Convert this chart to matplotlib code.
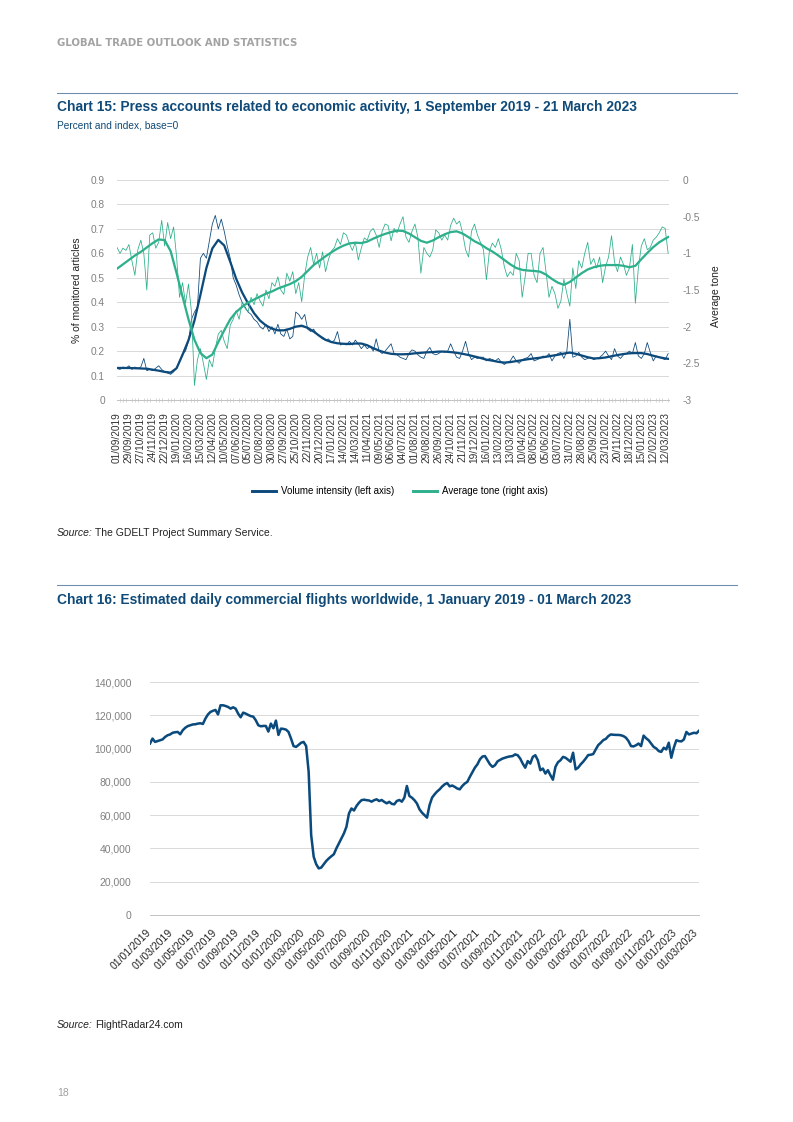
import matplotlib
matplotlib.use("Agg")
import matplotlib.pyplot as plt
import matplotlib.dates as mdates
from matplotlib.lines import Line2D
from matplotlib.ticker import FuncFormatter
import pandas as pd

W, H, DPI = 793, 1122, 96

NAVY = "#0d4a7c"
TEAL = "#2fb08c"
TITLE_BLUE = "#0f4a78"
RULE = "#6f8db0"
GRID = "#dadada"
TICK_GREY = "#808080"
NARROW = ["Liberation Sans Narrow", "Liberation Sans", "DejaVu Sans"]
SANS = ["Liberation Sans", "DejaVu Sans"]

plt.rcParams["font.family"] = SANS
plt.rcParams["axes.unicode_minus"] = False

# ---- Chart 15: press accounts (weekly readings from 01/09/2019) ----
press_start = "2019-09-01"
press_end = "2023-03-21"
vol_raw = [
    0.13, 0.125, 0.135, 0.13, 0.14, 0.125, 0.135, 0.13, 0.135, 0.17,
    0.12, 0.125, 0.12, 0.13, 0.14, 0.125, 0.115, 0.11, 0.105, 0.115,
    0.13, 0.16, 0.19, 0.2, 0.24, 0.33, 0.36, 0.38, 0.58, 0.60,
    0.58, 0.65, 0.72, 0.755, 0.70, 0.74, 0.69, 0.63, 0.58, 0.50,
    0.47, 0.43, 0.40, 0.38, 0.36, 0.35, 0.33, 0.32, 0.30, 0.29,
    0.31, 0.28, 0.30, 0.27, 0.31, 0.27, 0.26, 0.29, 0.25, 0.26,
    0.36, 0.35, 0.33, 0.35, 0.29, 0.28, 0.29, 0.27, 0.26, 0.25,
    0.245, 0.25, 0.235, 0.245, 0.28, 0.225, 0.23, 0.225, 0.24, 0.225,
    0.245, 0.23, 0.21, 0.225, 0.21, 0.22, 0.2, 0.25, 0.2, 0.19,
    0.2, 0.215, 0.23, 0.19, 0.185, 0.175, 0.17, 0.165, 0.19, 0.205,
    0.2, 0.185, 0.175, 0.17, 0.2, 0.215, 0.19, 0.185, 0.19, 0.2,
    0.195, 0.2, 0.23, 0.2, 0.175, 0.17, 0.2, 0.24, 0.19, 0.165,
    0.175, 0.17, 0.175, 0.175, 0.16, 0.17, 0.165, 0.16, 0.17, 0.155,
    0.145, 0.155, 0.16, 0.18, 0.16, 0.15, 0.165, 0.17, 0.175, 0.19,
    0.16, 0.165, 0.17, 0.18, 0.175, 0.19, 0.16, 0.18, 0.19, 0.195,
    0.17, 0.2, 0.33, 0.175, 0.18, 0.195, 0.175, 0.165, 0.17, 0.175,
    0.165, 0.17, 0.175, 0.185, 0.2, 0.18, 0.165, 0.21, 0.18, 0.17,
    0.185, 0.19, 0.2, 0.19, 0.235, 0.18, 0.17, 0.19, 0.235, 0.195,
    0.16, 0.18, 0.175, 0.17, 0.165, 0.19,
]
tone_raw = [
    -0.92, -1.0, -0.93, -0.96, -0.88, -1.1, -1.3, -0.95, -0.82, -1.0,
    -1.5, -0.75, -0.72, -0.93, -0.85, -0.55, -0.9, -0.58, -0.8, -0.64,
    -1.05, -1.6, -1.4, -1.68, -1.42, -1.8, -2.8, -2.45, -2.3, -2.5,
    -2.72, -2.45, -2.55, -2.3, -2.1, -2.05, -2.2, -2.3, -1.98, -1.9,
    -1.78, -1.9, -1.67, -1.75, -1.8, -1.6, -1.7, -1.55, -1.65, -1.72,
    -1.5, -1.62, -1.4, -1.45, -1.32, -1.5, -1.56, -1.27, -1.38, -1.25,
    -1.55, -1.4, -1.66, -1.3, -1.05, -0.92, -1.15, -1.0, -1.2, -0.98,
    -1.25, -1.08, -0.97, -0.92, -0.8, -0.88, -0.72, -0.75, -0.87, -0.96,
    -0.85, -1.09, -0.93, -0.79, -0.82, -0.7, -0.66, -0.75, -0.92, -0.7,
    -0.6, -0.62, -0.83, -0.66, -0.72, -0.6, -0.5, -0.78, -0.85, -0.7,
    -0.6, -0.78, -1.27, -0.92, -1.0, -1.05, -0.95, -0.68, -0.72, -0.82,
    -0.75, -0.82, -0.62, -0.52, -0.6, -0.56, -0.72, -0.95, -1.05, -0.7,
    -0.6, -0.75, -0.85, -0.95, -1.36, -0.97, -0.86, -0.92, -0.8, -0.95,
    -1.18, -1.32, -1.25, -1.3, -1.0, -1.1, -1.6, -1.32, -1.0, -1.0,
    -1.3, -1.4, -1.0, -0.92, -1.25, -1.6, -1.45, -1.55, -1.75, -1.65,
    -1.35, -1.55, -1.72, -1.2, -1.48, -1.1, -1.2, -1.0, -0.85, -1.15,
    -1.07, -1.2, -1.05, -1.4, -1.18, -1.05, -0.76, -1.12, -1.25, -1.05,
    -1.15, -1.3, -1.2, -0.88, -1.68, -1.2, -0.9, -0.8, -0.95, -0.92,
    -0.82, -0.78, -0.72, -0.64, -0.66, -1.0,
]
# smoothed trends, read every 14 days plus the last day
vol_smooth = [
    0.131, 0.131, 0.131, 0.130, 0.129, 0.128, 0.124, 0.120, 0.115, 0.112,
    0.130, 0.185, 0.245, 0.325, 0.430, 0.540, 0.620, 0.655, 0.632, 0.566,
    0.496, 0.440, 0.395, 0.355, 0.325, 0.305, 0.292, 0.285, 0.285, 0.291,
    0.300, 0.304, 0.295, 0.280, 0.262, 0.246, 0.237, 0.232, 0.230, 0.229,
    0.231, 0.231, 0.224, 0.212, 0.202, 0.194, 0.189, 0.187, 0.187, 0.188,
    0.191, 0.193, 0.195, 0.196, 0.198, 0.198, 0.196, 0.193, 0.189, 0.184,
    0.178, 0.172, 0.165, 0.161, 0.156, 0.153, 0.155, 0.159, 0.163, 0.167,
    0.170, 0.173, 0.177, 0.181, 0.185, 0.190, 0.194, 0.189, 0.182, 0.175,
    0.170, 0.171, 0.174, 0.179, 0.184, 0.188, 0.191, 0.192, 0.192, 0.188,
    0.181, 0.175, 0.170, 0.168,
]
tone_smooth = [
    -1.21, -1.15, -1.09, -1.03, -0.98, -0.92, -0.86, -0.81, -0.82, -0.97,
    -1.27, -1.59, -1.90, -2.18, -2.36, -2.43, -2.38, -2.21, -2.05, -1.90,
    -1.80, -1.73, -1.67, -1.63, -1.59, -1.55, -1.52, -1.48, -1.45, -1.42,
    -1.38, -1.32, -1.24, -1.16, -1.10, -1.04, -0.985, -0.935, -0.895, -0.865,
    -0.855, -0.86, -0.84, -0.80, -0.765, -0.735, -0.71, -0.69, -0.695, -0.73,
    -0.78, -0.83, -0.855, -0.825, -0.78, -0.74, -0.71, -0.70, -0.73, -0.78,
    -0.835, -0.875, -0.93, -0.975, -1.03, -1.09, -1.15, -1.20, -1.225, -1.235,
    -1.24, -1.25, -1.29, -1.35, -1.40, -1.43, -1.39, -1.33, -1.27, -1.22,
    -1.19, -1.17, -1.16, -1.16, -1.16, -1.17, -1.19, -1.17, -1.08, -0.995,
    -0.915, -0.85, -0.80, -0.773,
]
vol_ticks = [i / 10 for i in range(10)]
tone_ticks = [-3, -2.5, -2, -1.5, -1, -0.5, 0]

# ---- Chart 16: daily commercial flights (weekly readings, thousands) ----
flights_start = "2019-01-01"
flights_k = [
    103, 106, 104, 104.5, 105, 105.5, 107, 108, 108.5, 109.5,
    109.8, 110, 108.6, 111, 112.5, 113.5, 114, 114.5, 114.6, 115,
    115.2, 114.8, 118, 120.5, 122, 122.7, 123.2, 120.5, 126, 126,
    125.6, 125, 124, 124.8, 124, 121, 118.8, 121.6, 121, 120.2,
    119.5, 119.2, 117, 114, 113.4, 113.6, 113.6, 110.2, 115, 112.2,
    116.8, 108.2, 112, 111.8, 111.4, 110, 106, 101.5, 101, 102.2,
    103.5, 104, 101.5, 86, 48, 35, 30.5, 28, 28.5, 30.5,
    32.5, 34, 35.3, 36.5, 40, 43, 46, 49, 53, 61,
    64, 62.8, 65.5, 67.5, 69, 69.3, 69, 68.8, 68.1, 69,
    69.5, 68.5, 69.1, 68, 67.1, 68, 66.8, 66.5, 68.5, 69.1,
    68.1, 70.5, 77.5, 71.5, 70.5, 69, 67, 63.5, 61.5, 60,
    58.5, 66, 70.5, 72.5, 74.2, 75.5, 77.2, 78.5, 79.3, 77.3,
    77.8, 77, 76, 75.5, 77.5, 79, 80, 83, 85.7, 88.5,
    90.5, 93.5, 95.2, 95.5, 93, 90.5, 89, 90, 92.3, 93.2,
    94, 94.5, 95, 95.3, 95.5, 96.5, 96, 94, 91, 88.5,
    92.5, 91, 95, 96, 93, 87, 88, 85, 87, 84,
    81.3, 89, 91.8, 93, 95, 94.5, 93.3, 92.1, 97.5, 87.5,
    88.5, 90.5, 92.1, 94, 96.1, 96.3, 96.7, 99.5, 102.1, 103.5,
    105.1, 105.8, 107.5, 108.5, 108.3, 108.2, 108.2, 108, 107.5, 106.5,
    104.5, 101.5, 101.3, 102, 103, 101.5, 107.8, 106.2, 105, 103,
    101, 100.1, 98.5, 98, 100.5, 99.5, 103.5, 94.5, 100.5, 105,
    104.5, 104.3, 105.5, 110, 108.5, 109, 109.5, 109.2, 110.7,
]
flight_ticks = pd.date_range("2019-01-01", "2023-03-01", freq="2MS")
flight_yticks = list(range(0, 140001, 20000))


def fx(x):
    return x / W


def fy(y):
    return 1 - y / H


def source_line(fig, y, rest):
    t = fig.text(fx(57), fy(y), "Source:", fontsize=7.8, style="italic",
                 va="center", color="#222222")
    fig.canvas.draw()
    x1 = t.get_window_extent().x1
    fig.text(x1 / W + 2 / W, fy(y), rest, fontsize=7.8, va="center",
             color="#222222")


fig = plt.figure(figsize=(W / DPI, H / DPI), dpi=DPI)

# page furniture
fig.text(fx(57), fy(43), "GLOBAL TRADE OUTLOOK AND STATISTICS", fontsize=7.6,
         family=["DejaVu Sans"], fontweight="bold", color="#a3a3a3", va="center")
for yy in (92.5, 585):
    fig.add_artist(Line2D([fx(57), fx(737)], [fy(yy), fy(yy)], color=RULE, lw=0.8))
fig.text(fx(57), fy(107), "Chart 15: Press accounts related to economic activity, "
         "1 September 2019 - 21 March 2023", family=NARROW, fontweight="bold",
         fontsize=10.3, color=TITLE_BLUE, va="center")
fig.text(fx(57), fy(126), "Percent and index, base=0", family=NARROW,
         fontsize=7.6, color=TITLE_BLUE, va="center")
fig.text(fx(57), fy(600), "Chart 16: Estimated daily commercial flights worldwide, "
         "1 January 2019 - 01 March 2023", family=NARROW, fontweight="bold",
         fontsize=10.3, color=TITLE_BLUE, va="center")
fig.text(fx(57), fy(1093), "18", fontsize=7.8, color="#a0a0a0", va="center")

# ---- chart 15 ----
raw_dates = pd.date_range(press_start, periods=len(vol_raw), freq="7D")
smooth_dates = pd.date_range(press_start, periods=len(vol_smooth) - 1, freq="14D")
smooth_dates = smooth_dates.append(pd.DatetimeIndex([press_end]))

ax1 = fig.add_axes([fx(117), fy(400), (669 - 117) / W, 220 / H])
ax2 = ax1.twinx()

ax1.plot(raw_dates, vol_raw, color=NAVY, lw=0.6)
ax1.plot(smooth_dates, vol_smooth, color=NAVY, lw=1.7, solid_capstyle="round")
ax2.plot(raw_dates, tone_raw, color=TEAL, lw=0.6)
ax2.plot(smooth_dates, tone_smooth, color=TEAL, lw=1.7, solid_capstyle="round")

ax1.set_xlim(pd.Timestamp(press_start), pd.Timestamp(press_end))
ax1.set_ylim(0, 0.9)
ax2.set_ylim(-3, 0)
ax1.set_yticks(vol_ticks)
ax2.set_yticks(tone_ticks)
fmt_g = FuncFormatter(lambda v, _: f"{v:g}")
ax1.yaxis.set_major_formatter(fmt_g)
ax2.yaxis.set_major_formatter(fmt_g)
ax1.grid(axis="y", color=GRID, lw=0.75)
ax1.set_axisbelow(True)

ax1.set_xticks(pd.date_range(press_start, press_end, freq="28D"))
ax1.xaxis.set_major_formatter(mdates.DateFormatter("%d/%m/%Y"))
ax1.set_xticks(pd.date_range(press_start, press_end, freq="7D"), minor=True)
ax1.tick_params(axis="x", which="major", length=0, pad=9, labelsize=7.6,
                labelrotation=90, labelcolor="#333333")
ax1.tick_params(axis="x", which="minor", length=2.5, width=0.5,
                color="#c4c4c4", direction="inout")
ax1.tick_params(axis="y", length=0, pad=9, labelsize=7.6, labelcolor=TICK_GREY)
ax2.tick_params(axis="y", length=0, pad=10, labelsize=7.6, labelcolor=TICK_GREY)
for a in (ax1, ax2):
    for s in a.spines.values():
        s.set_visible(False)
ax1.spines["bottom"].set_visible(True)
ax1.spines["bottom"].set_color("#c4c4c4")
ax1.spines["bottom"].set_linewidth(0.75)

fig.text(fx(77), fy(290), "% of monitored articles", rotation=90, ha="center",
         va="center", fontsize=7.8, color="#222222")
fig.text(fx(716), fy(296), "Average tone", rotation=90, ha="center",
         va="center", fontsize=7.8, color="#222222")

handles = [Line2D([], [], color=NAVY, lw=2.2), Line2D([], [], color=TEAL, lw=2.2)]
fig.legend(handles, ["Volume intensity (left axis)", "Average tone (right axis)"],
           loc="center", bbox_to_anchor=(fx(400), fy(491)), ncol=2,
           frameon=False, handlelength=2.4, handletextpad=0.5,
           columnspacing=2.0, prop={"family": NARROW, "size": 7.3})

source_line(fig, 533, "The GDELT Project Summary Service.")

# ---- chart 16 ----
flight_dates = pd.date_range(flights_start, periods=len(flights_k), freq="7D")
flights = [v * 1000 for v in flights_k]

ax3 = fig.add_axes([fx(150), fy(915), (699 - 150) / W, 233 / H])
ax3.plot(flight_dates, flights, color="#0a4a7d", lw=1.9, solid_joinstyle="round")
ax3.set_xlim(pd.Timestamp(flights_start), flight_dates[-1])
ax3.set_ylim(0, 140000)
ax3.set_yticks(flight_yticks)
ax3.yaxis.set_major_formatter(FuncFormatter(lambda v, _: f"{v:,.0f}"))
ax3.grid(axis="y", color=GRID, lw=0.75)
ax3.set_axisbelow(True)
ax3.set_xticks(flight_ticks)
ax3.xaxis.set_major_formatter(mdates.DateFormatter("%d/%m/%Y"))
ax3.tick_params(axis="x", length=0, pad=12, labelsize=7.8, labelcolor="#222222")
ax3.tick_params(axis="y", length=0, pad=14, labelsize=7.8, labelcolor=TICK_GREY)
for lab in ax3.get_xticklabels():
    lab.set_rotation(45)
    lab.set_ha("right")
    lab.set_va("center")
    lab.set_rotation_mode("anchor")
for s in ax3.spines.values():
    s.set_visible(False)
ax3.spines["bottom"].set_visible(True)
ax3.spines["bottom"].set_color("#c4c4c4")
ax3.spines["bottom"].set_linewidth(0.75)

source_line(fig, 1025, "FlightRadar24.com")

fig.savefig("out.png", dpi=DPI, facecolor="white")
